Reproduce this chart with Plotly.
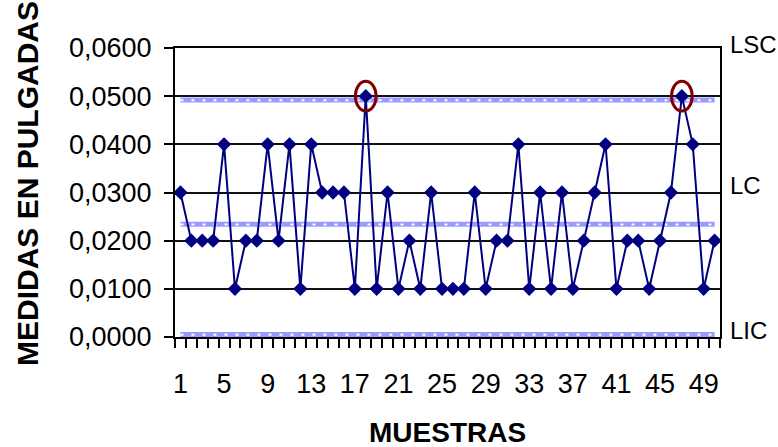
import plotly.graph_objects as go

# ---- data ----
muestras = list(range(1, 51))
medidas = [0.03, 0.02, 0.02, 0.02, 0.04, 0.01, 0.02, 0.02, 0.04, 0.02,
           0.04, 0.01, 0.04, 0.03, 0.03, 0.03, 0.01, 0.05, 0.01, 0.03,
           0.01, 0.02, 0.01, 0.03, 0.01, 0.01, 0.01, 0.03, 0.01, 0.02,
           0.02, 0.04, 0.01, 0.03, 0.01, 0.03, 0.01, 0.02, 0.03, 0.04,
           0.01, 0.02, 0.02, 0.01, 0.02, 0.03, 0.05, 0.04, 0.01, 0.02]
LSC = 0.0492
LC = 0.0234
LIC = 0.0005
y_ticks = [0.0, 0.01, 0.02, 0.03, 0.04, 0.05, 0.06]
y_tick_labels = ["0,0000", "0,0100", "0,0200", "0,0300", "0,0400", "0,0500", "0,0600"]
x_ticks = list(range(1, 50, 4))
control_labels = ["LSC", "LC", "LIC"]

FONT = "Liberation Sans, Arial, sans-serif"
fig = go.Figure()

# control limit lines
for val in (LSC, LC, LIC):
    xs = [muestras[0], muestras[-1]]
    fig.add_trace(go.Scatter(x=xs, y=[val, val], mode="lines",
                             line=dict(color="#9999FF", width=5),
                             hoverinfo="skip", showlegend=False))
    fig.add_trace(go.Scatter(x=xs, y=[val - 0.00003, val - 0.00003], mode="lines",
                             line=dict(color="white", width=2, dash="3px,8px"),
                             hoverinfo="skip", showlegend=False))

# measurements
fig.add_trace(go.Scatter(x=muestras, y=medidas, mode="lines+markers",
                         line=dict(color="#000080", width=2),
                         marker=dict(symbol="diamond", size=11, color="#000080"),
                         showlegend=False))

# circles around out-of-control points
for xi, yi in zip(muestras, medidas):
    if yi >= LSC:
        fig.add_shape(type="circle", xref="x", yref="y",
                      x0=xi - 0.95, x1=xi + 0.95, y0=yi - 0.0031, y1=yi + 0.0031,
                      line=dict(color="#800000", width=3))

# right-side labels
for txt, ypix in zip(control_labels, [44, 185, 330]):
    fig.add_annotation(text=txt, xref="paper", yref="paper",
                       x=(728 - 175) / 545, y=(337 - ypix) / 289,
                       xanchor="left", yanchor="middle", showarrow=False,
                       font=dict(family=FONT, size=24, color="black"))

# axis titles
fig.add_annotation(text="<b>MUESTRAS</b>", xref="paper", yref="paper",
                   x=(447 - 175) / 545, y=(337 - 432) / 289,
                   xanchor="center", yanchor="middle", showarrow=False,
                   font=dict(family=FONT, size=28, color="black"))
fig.add_annotation(text="<b>MEDIDAS EN PULGADAS</b>", xref="paper", yref="paper",
                   x=(27 - 175) / 545, y=(337 - 184) / 289, textangle=-90,
                   xanchor="center", yanchor="middle", showarrow=False,
                   font=dict(family=FONT, size=30, color="black"))

fig.update_xaxes(range=[0.5, 50.5], tickmode="array", tickvals=x_ticks,
                 ticktext=[str(v) for v in x_ticks], ticks="outside", ticklen=0,
                 ticklabelstandoff=22,
                 showgrid=False, zeroline=False,
                 showline=True, linecolor="black", linewidth=2, mirror=True,
                 tickfont=dict(family=FONT, size=27, color="black"),
                 minor=dict(tickmode="linear", tick0=0.5, dtick=1, ticks="outside",
                            ticklen=9, tickwidth=2, tickcolor="black", showgrid=False))
fig.update_yaxes(range=[0, 0.06], tickmode="array", tickvals=y_ticks,
                 ticktext=y_tick_labels, ticks="outside", ticklen=9,
                 tickwidth=2, tickcolor="black", ticklabelstandoff=7,
                 showgrid=True, gridcolor="#111111", gridwidth=2, zeroline=False,
                 showline=True, linecolor="black", linewidth=2, mirror=True,
                 tickfont=dict(family=FONT, size=27, color="black"))

fig.update_layout(width=778, height=447,
                  margin=dict(l=175, r=58, t=48, b=110),
                  paper_bgcolor="white", plot_bgcolor="white",
                  font=dict(family=FONT, color="black"))

fig.write_html("out.html", config={"displayModeBar": False},
               post_script="document.body.style.margin='0';document.body.style.overflow='hidden';")
